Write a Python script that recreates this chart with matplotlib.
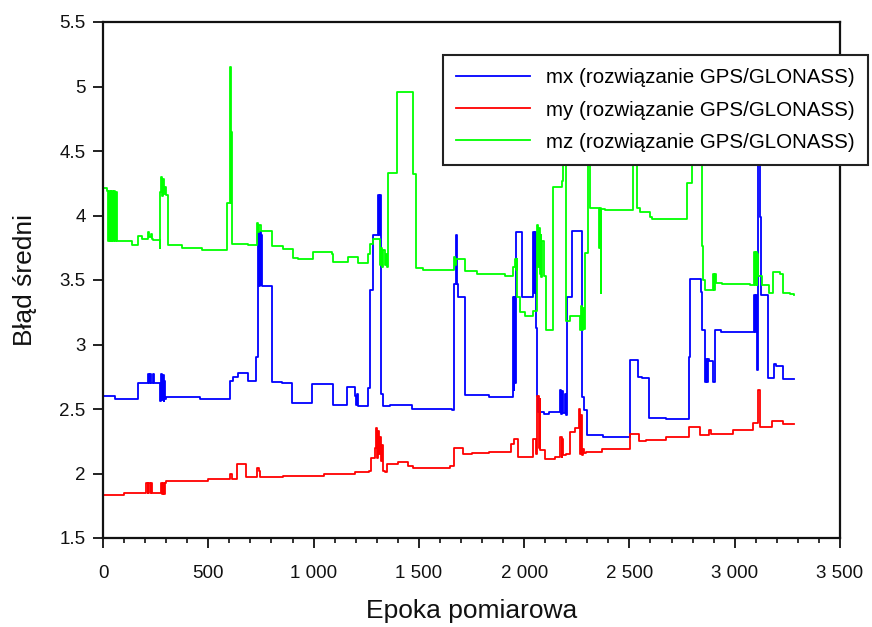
import matplotlib
matplotlib.use("Agg")
import matplotlib.pyplot as plt
from matplotlib.ticker import MultipleLocator, FuncFormatter

plt.rcParams['font.family'] = ['Liberation Sans', 'DejaVu Sans']

# ---- data (step breakpoints: epoch, value) ----
mx_epoch = [0, 55, 168, 212, 218, 222, 228, 236, 242, 272, 276, 280, 284, 288, 292, 296, 300,
            460, 602, 615, 640, 690, 726, 736, 740, 744, 748, 752, 756, 803, 850, 898, 993,
            1091, 1157, 1197, 1203, 1208, 1213, 1260, 1268, 1280, 1307, 1311, 1315, 1319, 1332,
            1363, 1466, 1656, 1665, 1669, 1676, 1680, 1684, 1688, 1719, 1831, 1945, 1950, 1954,
            1958, 1961, 1988, 2043, 2048, 2052, 2058, 2062, 2068, 2095, 2120, 2170, 2174, 2180,
            2186, 2192, 2198, 2205, 2226, 2273, 2285, 2297, 2376, 2504, 2540, 2560, 2591, 2676,
            2784, 2790, 2838, 2845, 2860, 2865, 2870, 2875, 2880, 2895, 2906, 2935, 3092, 3096,
            3100, 3105, 3110, 3118, 3125, 3160, 3185, 3195, 3230, 3280]
mx_value = [2.60, 2.58, 2.70, 2.77, 2.70, 2.77, 2.70, 2.77, 2.70, 2.56, 2.77, 2.57, 2.76, 2.56, 2.72, 2.58, 2.59,
            2.58, 2.72, 2.75, 2.78, 2.72, 2.90, 3.87, 3.45, 3.87, 3.46, 3.85, 3.45, 2.71, 2.70, 2.55, 2.69,
            2.53, 2.67, 2.60, 2.53, 2.62, 2.52, 2.66, 3.42, 3.85, 4.16, 3.85, 4.16, 2.62, 2.52,
            2.53, 2.50, 2.49, 2.62, 3.47, 3.85, 3.47, 3.40, 3.37, 2.61, 2.59, 3.37, 2.65, 3.37,
            2.70, 3.87, 3.37, 3.87, 3.40, 3.87, 3.13, 2.60, 2.48, 2.46, 2.48, 2.65, 2.46, 2.64,
            2.47, 2.62, 2.45, 3.37, 3.88, 2.59, 2.49, 2.30, 2.28, 2.88, 2.75, 2.74, 2.43, 2.42,
            2.90, 3.51, 3.41, 3.11, 2.71, 2.89, 2.71, 2.89, 2.87, 2.71, 3.11, 3.10, 3.38, 3.10,
            3.38, 2.80, 4.45, 3.99, 3.38, 2.74, 2.85, 2.83, 2.73, 2.73]

my_epoch = [0, 100, 206, 212, 216, 222, 228, 232, 275, 280, 285, 290, 296, 300, 497, 602, 612,
            637, 681, 733, 740, 745, 853, 1051, 1197, 1263, 1271, 1290, 1298, 1303, 1307, 1311,
            1315, 1320, 1325, 1330, 1340, 1350, 1400, 1448, 1470, 1646, 1667, 1712, 1750, 1831,
            1936, 1950, 1972, 2042, 2058, 2063, 2069, 2073, 2077, 2100, 2147, 2172, 2178, 2182,
            2186, 2200, 2219, 2240, 2262, 2266, 2270, 2274, 2280, 2286, 2293, 2372, 2504, 2544,
            2580, 2676, 2781, 2834, 2880, 2886, 2993, 3085, 3110, 3118, 3178, 3230, 3280]
my_value = [1.83, 1.85, 1.93, 1.85, 1.93, 1.85, 1.93, 1.85, 1.93, 1.84, 1.93, 1.84, 1.93, 1.94, 1.96, 2.00, 1.96,
            2.07, 1.97, 2.04, 2.02, 1.97, 1.98, 2.00, 2.01, 2.02, 2.12, 2.20, 2.35, 2.12, 2.33, 2.15,
            2.28, 2.10, 2.22, 2.02, 2.01, 2.07, 2.09, 2.06, 2.04, 2.06, 2.20, 2.15, 2.16, 2.17,
            2.23, 2.27, 2.13, 2.27, 2.15, 2.60, 2.20, 2.58, 2.18, 2.11, 2.13, 2.28, 2.13, 2.27,
            2.14, 2.15, 2.32, 2.35, 2.50, 2.15, 2.45, 2.14, 2.19, 2.16, 2.17, 2.19, 2.31, 2.25,
            2.26, 2.28, 2.36, 2.30, 2.34, 2.31, 2.34, 2.39, 2.65, 2.36, 2.41, 2.38, 2.38]

mz_epoch = [0, 20, 24, 28, 32, 36, 40, 44, 48, 52, 56, 60, 65, 136, 168, 183, 215, 220, 226, 232,
            238, 270, 271, 276, 281, 286, 291, 296, 301, 309, 374, 468, 588, 603, 607, 610, 613,
            688, 730, 738, 742, 748, 801, 856, 903, 927, 996, 1086, 1094, 1165, 1213, 1260, 1268,
            1283, 1315, 1320, 1325, 1330, 1338, 1345, 1350, 1355, 1395, 1471, 1487, 1519, 1665,
            1672, 1678, 1719, 1775, 1909, 1949, 1955, 1960, 1964, 1968, 1980, 2004, 2044, 2062,
            2066, 2070, 2074, 2078, 2082, 2086, 2092, 2105, 2136, 2180, 2186, 2200, 2218, 2265,
            2270, 2275, 2280, 2285, 2290, 2305, 2313, 2357, 2360, 2363, 2366, 2384, 2519, 2535,
            2550, 2600, 2606, 2772, 2796, 2843, 2848, 2860, 2898, 2902, 2906, 2911, 2938, 3073,
            3092, 3096, 3100, 3104, 3108, 3111, 3130, 3163, 3183, 3215, 3230, 3262, 3280]
mz_value = [4.21, 4.19, 3.80, 4.19, 3.80, 4.19, 3.80, 4.19, 3.80, 4.19, 3.80, 4.18, 3.80, 3.77, 3.84, 3.82, 3.87, 3.83, 3.86, 3.82,
            3.81, 3.75, 4.18, 4.30, 4.15, 4.28, 4.17, 4.22, 4.16, 3.77, 3.75, 3.73, 4.10, 5.15, 4.10, 4.65, 3.78,
            3.77, 3.94, 3.87, 3.93, 3.88, 3.76, 3.74, 3.67, 3.66, 3.72, 3.70, 3.64, 3.68, 3.63, 3.70, 3.78,
            3.82, 3.62, 3.75, 3.60, 3.73, 3.62, 3.70, 3.60, 4.33, 4.96, 4.32, 3.59, 3.58, 3.68,
            3.62, 3.66, 3.57, 3.55, 3.53, 3.60, 3.66, 3.58, 3.66, 3.37, 3.25, 3.22, 3.26, 3.93,
            3.60, 3.90, 3.55, 3.85, 3.52, 3.80, 3.53, 3.11, 4.22, 4.27, 4.60, 3.18, 3.22, 3.11,
            3.30, 3.11, 3.28, 3.12, 3.71, 4.60, 4.06, 3.75, 4.06, 3.40, 4.05, 4.04, 4.60, 4.06,
            4.03, 3.99, 3.97, 4.25, 4.60, 3.76, 3.50, 3.42, 3.55, 3.42, 3.55, 3.48, 3.47, 3.46,
            3.72, 3.46, 3.72, 3.46, 3.70, 3.53, 3.46, 3.40, 3.56, 3.55, 3.40, 3.39, 3.38]

labels = ["mx (rozwiązanie GPS/GLONASS)",
          "my (rozwiązanie GPS/GLONASS)",
          "mz (rozwiązanie GPS/GLONASS)"]
colors = ["#0000ff", "#ff0000", "#00ff00"]

W, H = 872, 627
fig = plt.figure(figsize=(W / 100, H / 100), dpi=100)
ax = fig.add_axes([103 / W, (H - 538) / H, (840 - 103) / W, (538 - 22) / H])

for ep, val, lab, c in zip([mx_epoch, my_epoch, mz_epoch], [mx_value, my_value, mz_value], labels, colors):
    ax.plot(ep, val, drawstyle='steps-post', color=c, lw=1.3, label=lab)

ax.set_xlim(0, 3500)
ax.set_ylim(1.5, 5.5)
ax.xaxis.set_major_locator(MultipleLocator(500))
ax.xaxis.set_minor_locator(MultipleLocator(100))
ax.yaxis.set_major_locator(MultipleLocator(0.5))
ax.xaxis.set_major_formatter(FuncFormatter(lambda v, p: f"{int(round(v)):,}".replace(",", " ")))
ax.yaxis.set_major_formatter(FuncFormatter(lambda v, p: f"{v:g}"))
ax.tick_params(axis='both', which='major', direction='out', length=7.5, width=1.3,
               labelsize=13.5, colors='#111111')
ax.tick_params(axis='x', which='major', pad=12)
ax.tick_params(axis='y', which='major', pad=5)
ax.tick_params(axis='x', which='minor', direction='out', length=3.8, width=1.2, color='#111111')
for s in ax.spines.values():
    s.set_linewidth(1.6)
    s.set_color('#111111')

ax.set_xlabel("Epoka pomiarowa", fontsize=19, labelpad=12, color='#111111')
ax.set_ylabel("Błąd średni", fontsize=19, labelpad=16, color='#111111')

leg = ax.legend(loc='upper left', bbox_to_anchor=(443 / W, 1 - 55 / H), bbox_transform=fig.transFigure,
                fontsize=14.8, frameon=True, fancybox=False, framealpha=1, edgecolor='#222222',
                handlelength=3.6, handletextpad=0.75, labelspacing=0.64, borderpad=0.65, borderaxespad=0)
leg.get_frame().set_linewidth(1.5)
leg.set_zorder(10)

fig.savefig("out.png", dpi=100)
